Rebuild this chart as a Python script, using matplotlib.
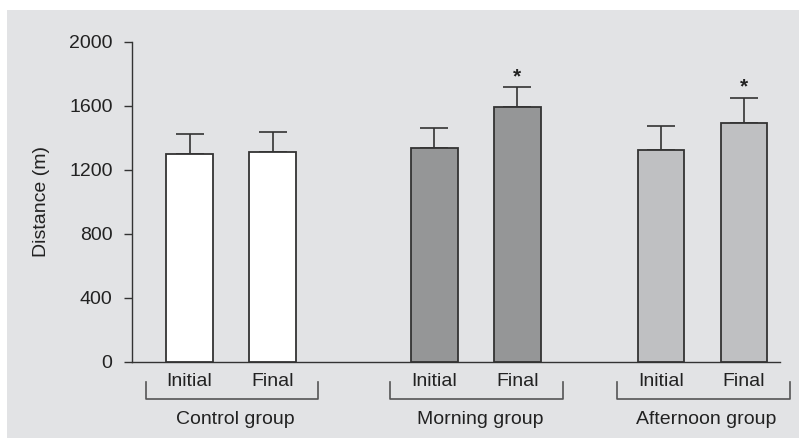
import numpy as np
import matplotlib
matplotlib.use("Agg")
import matplotlib.pyplot as plt

plt.rcParams['font.family'] = ['Liberation Sans', 'DejaVu Sans']

groups = ['Control group', 'Morning group', 'Afternoon group']
phases = ['Initial', 'Final']
means = [[1300, 1310], [1335, 1590], [1325, 1495]]
errs = [[125, 125], [127, 125], [148, 152]]
signif = [[False, False], [False, True], [False, True]]
colors = ['#ffffff', '#959697', '#bfc0c2']

# layout: group offsets along x, bar spacing within a group
group_pos = [0.0, 2.95, 5.68]
bar_step = 1.0
bar_w = 0.56
ink = '#333333'

fig = plt.figure(figsize=(7.99, 4.38), dpi=100)
fig.patch.set_facecolor('white')
# grey panel behind the chart
fig.patches.append(plt.Rectangle((7 / 799, 0), 1, 1 - 10 / 438, transform=fig.transFigure,
                                 facecolor='#e2e3e5', edgecolor='none', zorder=-10))
ax = fig.add_axes([132 / 799, 1 - 362 / 438, (780 - 132) / 799, (362 - 41.7) / 438])
ax.set_facecolor('none')

for gi, g in enumerate(groups):
    xs = group_pos[gi] + np.arange(len(phases)) * bar_step
    ax.bar(xs, means[gi], width=bar_w, color=colors[gi], edgecolor=ink, linewidth=1.3, zorder=3)
    ax.errorbar(xs, means[gi], yerr=[np.zeros(len(xs)), errs[gi]], fmt='none',
                ecolor=ink, elinewidth=1.2, capsize=10, capthick=1.2, zorder=2)
    for x, m, e, s in zip(xs, means[gi], errs[gi], signif[gi]):
        if s:
            ax.annotate('*', (x, m + e), xytext=(0, 1), textcoords='offset points',
                        ha='center', va='bottom', fontsize=15, fontweight='bold', color='#222222')
    for x, p in zip(xs, phases):
        ax.text(x, -120, p, ha='center', va='center', fontsize=14, color='#222222', clip_on=False)
    cx = xs.mean()
    bx = [cx - 1.03, cx - 1.03, cx + 1.05, cx + 1.05]
    by = [-125, -228, -228, -125]
    ax.plot(bx, by, color='#555555', linewidth=1.2, clip_on=False)
    ax.text(cx + 0.05, -360, g, ha='center', va='center', fontsize=14, color='#222222', clip_on=False)

ax.set_xlim(-0.693, 7.114)
ax.set_ylim(0, 2000)
ax.set_yticks([0, 400, 800, 1200, 1600, 2000])
ax.set_xticks([])
ax.tick_params(axis='y', direction='out', length=6, width=1, color=ink, pad=8,
               labelsize=14, labelcolor='#222222')
ax.set_ylabel('Distance (m)', fontsize=14, color='#222222', labelpad=14)
for side in ['top', 'right']:
    ax.spines[side].set_visible(False)
for side in ['left', 'bottom']:
    ax.spines[side].set_color(ink)
    ax.spines[side].set_linewidth(1.0)

fig.savefig('out.png', dpi=100)
